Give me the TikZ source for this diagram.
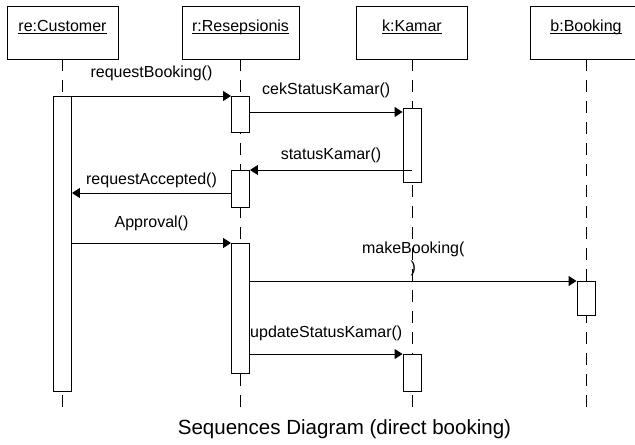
\documentclass[tikz,border=0pt]{standalone}
\usepackage{fontspec}
\setmainfont{Liberation Sans}
\usetikzlibrary{arrows.meta}
\newcommand{\objname}[1]{\underline{\smash{#1}}}
\begin{document}
\begin{tikzpicture}[x=0.75pt,y=-0.75pt,line width=0.7pt,
  obj/.style={draw,minimum width=83.25pt,minimum height=39.75pt,
    font=\fontsize{12}{14}\selectfont},
  act/.style={draw,fill=white,anchor=north,minimum width=13.5pt,inner sep=0pt},
  life/.style={dash pattern=on 9pt off 6.75pt},
  msg/.style={-{Triangle[length=6pt,width=7.5pt]}},
  lbl/.style={font=\fontsize{12}{14}\selectfont,inner sep=0pt}]
  \useasboundingbox (0,0) rectangle (635,445);
  \node[obj] (cu) at (62.5,32.5) {\objname{re:Customer}};
  \node[obj,minimum width=87.75pt] (re) at (240.5,32.5) {\objname{r:Resepsionis}};
  \node[obj] (ka) at (412,32.5) {\objname{k:Kamar}};
  \node[obj] (bo) at (586,32.5) {\objname{b:Booking}};
  \draw[life] (cu.south) -- (cu.south |- 0,413);
  \draw[life] (re.south) -- (re.south |- 0,413);
  \draw[life] (ka.south) -- (ka.south |- 0,413);
  \draw[life] (bo.south) -- (bo.south |- 0,413);
  \node[act,minimum height=221.25pt] (c1) at (cu.south |- 0,96) {};
  \node[act,minimum height=27pt] (r1) at (re.south |- 0,96) {};
  \node[act,minimum height=55.5pt] (k1) at (ka.south |- 0,108) {};
  \node[act,minimum height=27.75pt] (r2) at (re.south |- 0,170) {};
  \node[act,minimum height=97.5pt] (r3) at (re.south |- 0,243) {};
  \node[act,minimum height=25.5pt] (b1) at (bo.south |- 0,281) {};
  \node[act,minimum height=27.75pt] (k2) at (ka.south |- 0,354) {};
  \draw[msg] (c1.north east) -- (r1.north west)
    node[lbl,midway,yshift=17.25pt] (l1) {requestBooking()};
  \draw[msg] (r1.east |- 0,112) -- (k1.west |- 0,112)
    node[lbl,midway,yshift=16.5pt] (l2) {cekStatusKamar()};
  \draw[msg] (k1.center |- r2.north) -- (r2.north east)
    node[lbl,midway,yshift=11.25pt] (l3) {statusKamar()};
  \draw[msg] (r2.west |- 0,193) -- (c1.east |- 0,193)
    node[lbl,midway,yshift=9.75pt] (l4) {requestAccepted()};
  \draw[msg] (c1.east |- r3.north) -- (r3.north west)
    node[lbl,midway,yshift=15pt] (l5) {Approval()};
  \draw[msg] (r3.east |- b1.north) -- (b1.north west)
    node[lbl,midway,yshift=16.5pt,align=center] (l6) {makeBooking(\\)};
  \draw[msg] (r3.east |- k2.north) -- (k2.north west)
    node[lbl,midway,yshift=15.75pt] (l7) {updateStatusKamar()};
  \node[font=\fontsize{15.4}{18}\selectfont] (title) at (344.5,429) {Sequences Diagram (direct booking)};
\end{tikzpicture}
\end{document}
